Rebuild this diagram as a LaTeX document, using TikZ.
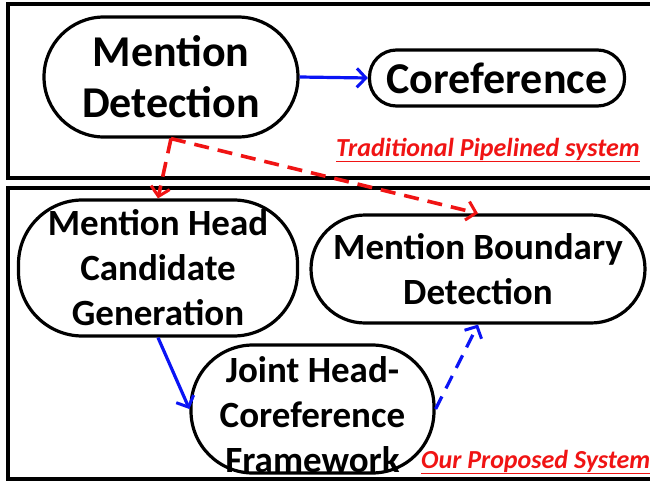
\documentclass[tikz,border=0pt]{standalone}
\usepackage{fontspec}
\setmainfont{Carlito}
\usetikzlibrary{arrows.meta}
\definecolor{myblue}{RGB}{10,20,245}
\definecolor{myred}{RGB}{240,20,20}
\tikzset{
  proc/.style={draw, line width=3.2pt, rounded corners=#1, align=center, inner sep=0pt},
  proc/.default=60pt,
  bigtxt/.style={font=\bfseries\fontsize{44}{51}\selectfont},
  midtxt/.style={font=\bfseries\fontsize{37}{45}\selectfont},
  lab/.style={text=myred, font=\bfseries\itshape\fontsize{26}{30}\selectfont, inner sep=0pt},
  frame/.style={draw, line width=3.2pt},
  barb/.style={-{Straight Barb[length=9pt,width=19pt,line width=3pt]}},
  blueline/.style={barb, draw=myblue, line width=3.2pt},
  redline/.style={barb, draw=myred, line width=3.6pt, dash pattern=on 15pt off 9pt},
}
\begin{document}
\begin{tikzpicture}[x=1pt,y=-1pt]
\useasboundingbox[fill=white] (0,0) rectangle (650,482);
\begin{scope}
\clip (0,0) rectangle (650,482);
\draw[frame] (8,4) rectangle (670,178);
\draw[frame] (8,188) rectangle (670,479);

\node[proc, bigtxt, minimum width=254pt, minimum height=120pt] (MD) at (171,77) {Mention\\Detection};
\node[proc=27pt, bigtxt, minimum width=255pt, minimum height=56pt] (CR) at (497,78) {Coreference};
\node[lab] (T) at (488,150) {\underline{Traditional Pipelined system}};

\node[proc=64pt, midtxt, minimum width=279pt, minimum height=136pt] (MH) at (158,268) {Mention Head\\Candidate\\Generation};
\node[proc=54pt, midtxt, minimum width=334pt, minimum height=108pt] (MB) at (478,269) {Mention Boundary\\Detection};
\node[proc=62pt, minimum width=243pt, minimum height=128pt] (J) at (312.5,409) {};
\node[midtxt, align=center, inner sep=0pt] (Jt) at (312.5,415) {Joint Head-\\Coreference\\Framework};
\node[lab, anchor=west] (P) at (421,462) {\underline{Our Proposed System}};

\draw[blueline] (MD.east) -- (CR.west);
\draw[redline] (MD.south) -- (MH.north);
\draw[redline] (MD.south) -- (MB.north);
\draw[blueline] (MH.south) -- (J.west);
\draw[blueline, dash pattern=on 14pt off 9pt] (J.east) -- (MB.south);
\end{scope}
\end{tikzpicture}
\end{document}
